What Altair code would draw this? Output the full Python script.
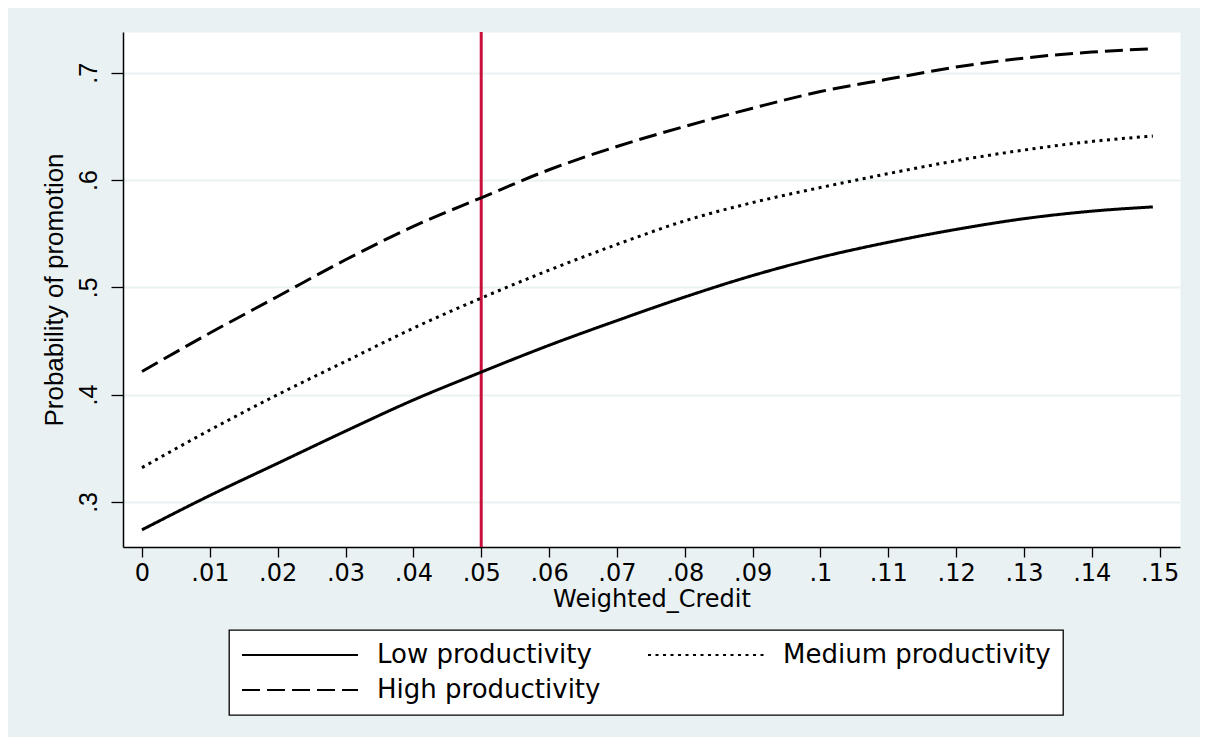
import altair as alt
import pandas as pd

# ---- data ----
x_vals = [0.0, 0.01, 0.02, 0.03, 0.04, 0.05, 0.06, 0.07, 0.08, 0.09, 0.10, 0.11, 0.12, 0.13, 0.14, 0.149]
low = [0.274, 0.306, 0.336, 0.366, 0.395, 0.421, 0.446, 0.469, 0.491, 0.511, 0.528, 0.542, 0.554, 0.564, 0.571, 0.575]
medium = [0.332, 0.367, 0.400, 0.431, 0.462, 0.490, 0.516, 0.540, 0.562, 0.579, 0.593, 0.606, 0.618, 0.628, 0.636, 0.641]
high = [0.4216, 0.4574, 0.4915, 0.5257, 0.5568, 0.5835, 0.6096, 0.6313, 0.650, 0.667, 0.6825, 0.6941, 0.7053, 0.7137, 0.7193, 0.7224]
series_names = ["Low productivity", "Medium productivity", "High productivity"]
x_ticks = [0, 0.01, 0.02, 0.03, 0.04, 0.05, 0.06, 0.07, 0.08, 0.09, 0.10, 0.11, 0.12, 0.13, 0.14, 0.15]
y_ticks = [0.3, 0.4, 0.5, 0.6, 0.7]
xline = [0.05]

rows = []
for name, vals in zip(series_names, [low, medium, high]):
    for xv, yv in zip(x_vals, vals):
        rows.append({"Weighted_Credit": xv, "prob": yv, "series": name})
df = pd.DataFrame(rows)
rule_df = pd.DataFrame({"Weighted_Credit": xline})

BG = "#E9F1F3"
x_scale = alt.Scale(domain=[-0.0028, 0.153], nice=False, zero=False)
y_scale = alt.Scale(domain=[0.258, 0.738], nice=False, zero=False)

x_axis = alt.Axis(
    values=x_ticks,
    labelExpr="replace(format(datum.value, '.2~f'), '0.', '.')",
    grid=False,
    domainColor="black", domainWidth=1.5,
    tickColor="black", tickSize=10, tickWidth=1.3,
    labelFont="DejaVu Sans", labelFontSize=24, labelColor="black",
    labelPadding=4, labelOverlap=False, labelFlush=False,
    titleFont="DejaVu Sans", titleFontSize=24, titleFontWeight="normal",
    titleColor="black", titlePadding=2,
)
y_axis = alt.Axis(
    values=y_ticks,
    labelExpr="replace(format(datum.value, '.1f'), '0.', '.')",
    grid=True, gridColor=BG, gridWidth=2,
    domainColor="black", domainWidth=1.5,
    tickColor="black", tickSize=12, tickWidth=1.3,
    labelAngle=270, labelAlign="center", labelBaseline="bottom",
    labelFont="Liberation Sans", labelFontSize=25, labelColor="black",
    labelPadding=10, labelOverlap=False, labelFlush=False,
    titleFont="Liberation Sans", titleFontSize=26, titleFontWeight="normal",
    titleColor="black", titlePadding=9,
)

rule = alt.Chart(rule_df).mark_rule(color="#C8103A", strokeWidth=3).encode(
    x=alt.X("Weighted_Credit:Q", scale=x_scale, axis=x_axis, title="Weighted_Credit"),
)

lines = alt.Chart(df).mark_line(color="black", strokeWidth=3, interpolate="monotone").encode(
    x=alt.X("Weighted_Credit:Q", scale=x_scale, axis=x_axis, title="Weighted_Credit"),
    y=alt.Y("prob:Q", scale=y_scale, axis=y_axis, title="Probability of promotion"),
    strokeDash=alt.StrokeDash(
        "series:N",
        scale=alt.Scale(domain=series_names, range=[[1, 0], [3, 4.5], [18, 7]]),
        legend=alt.Legend(
            title=None, orient="none", legendX=106, legendY=598,
            direction="horizontal", columns=2,
            symbolType="stroke", symbolSize=13456, symbolStrokeWidth=1.8,
            symbolStrokeColor="black", clipHeight=26,
            labelFont="DejaVu Sans", labelFontSize=26, labelColor="black",
            labelOffset=18, labelLimit=0, columnPadding=46, rowPadding=9,
            padding=12, fillColor="white", strokeColor="black", cornerRadius=0,
        ),
    ),
    order="Weighted_Credit:Q",
)

chart = alt.layer(rule, lines).properties(
    width=1057, height=515,
    background=BG,
    padding={"left": 115, "top": 24, "right": 20, "bottom": 190},
    autosize=alt.AutoSizeParams(type="none"),
).configure_view(fill="white", stroke="transparent").configure_legend(strokeWidth=1.3)

chart.save("out.html", embed_options={"renderer": "svg", "actions": False})
